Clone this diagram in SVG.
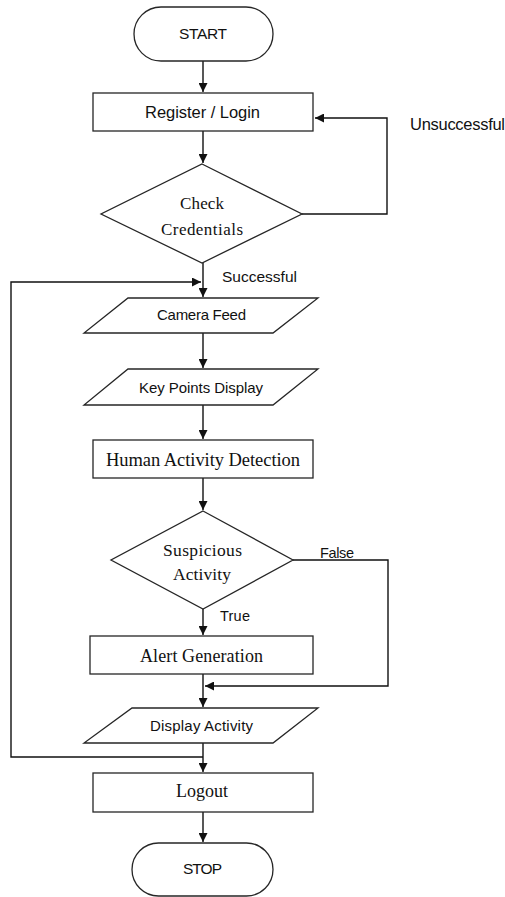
<svg xmlns="http://www.w3.org/2000/svg" width="505" height="897" viewBox="0 0 505 897">
  <style>
    .shape { fill: #ffffff; stroke: #262626; stroke-width: 1.3; }
    .link { fill: none; stroke: #111111; stroke-width: 1.4; }
    .sans { font-family: "Liberation Sans", Arial, sans-serif; fill: #111111; }
    .serif { font-family: "Liberation Serif", "Times New Roman", serif; fill: #111111; }
    .mid { text-anchor: middle; }
  </style>
  <defs>
    <marker id="arrow" viewBox="0 0 10 10" refX="10" refY="5" markerWidth="9" markerHeight="9" markerUnits="userSpaceOnUse" orient="auto">
      <path d="M0,0 L10,5 L0,10 z" fill="#111111"/>
    </marker>
  </defs>
  <rect width="505" height="897" fill="#ffffff"/>

  <!-- connectors and their labels -->
  <g id="connectors">
    <line class="link" x1="203" y1="61" x2="203" y2="92" marker-end="url(#arrow)"/>
    <line class="link" x1="203" y1="131" x2="203" y2="163" marker-end="url(#arrow)"/>
    <polyline class="link" points="302,214 387,214 387,118 315,118" marker-end="url(#arrow)"/>
    <line class="link" x1="203" y1="263" x2="203" y2="297" marker-end="url(#arrow)"/>
    <polyline class="link" points="203,757 11,757 11,282 201,282" marker-end="url(#arrow)"/>
    <line class="link" x1="203" y1="333" x2="203" y2="368" marker-end="url(#arrow)"/>
    <line class="link" x1="203" y1="405" x2="203" y2="439" marker-end="url(#arrow)"/>
    <line class="link" x1="203" y1="478" x2="203" y2="510" marker-end="url(#arrow)"/>
    <line class="link" x1="203" y1="609" x2="203" y2="635" marker-end="url(#arrow)"/>
    <polyline class="link" points="293,560 388,560 388,686 205,686" marker-end="url(#arrow)"/>
    <line class="link" x1="203" y1="674" x2="203" y2="707" marker-end="url(#arrow)"/>
    <line class="link" x1="203" y1="743" x2="203" y2="772" marker-end="url(#arrow)"/>
    <line class="link" x1="203" y1="812" x2="203" y2="842" marker-end="url(#arrow)"/>
    <text class="sans" x="410" y="130" style="font-size:16.5px" textLength="95">Unsuccessful</text>
    <text class="sans" x="222" y="282" style="font-size:15.5px" textLength="75">Successful</text>
    <text class="sans" x="320" y="558" style="font-size:14.5px" textLength="34">False</text>
    <text class="sans" x="220" y="621" style="font-size:14.5px" textLength="30">True</text>
  </g>

  <g id="start">
    <rect class="shape" x="134" y="7" width="139" height="54" rx="27" ry="27"/>
    <text class="sans mid" x="203" y="39" style="font-size:15.5px" textLength="48">START</text>
  </g>

  <g id="register-login">
    <rect class="shape" x="93" y="93" width="220" height="38"/>
    <text class="sans mid" x="202.5" y="118" style="font-size:16.5px" textLength="115">Register / Login</text>
  </g>

  <g id="check-credentials">
    <polygon class="shape" points="202,164 302,214 202,263 101,214"/>
    <text class="serif mid" x="202" y="209" style="font-size:17px" textLength="44">Check</text>
    <text class="serif mid" x="202" y="235" style="font-size:17px" textLength="82">Credentials</text>
  </g>

  <g id="camera-feed">
    <polygon class="shape" points="128,298 318,298 273,333 84,333"/>
    <text class="sans mid" x="201.5" y="320" style="font-size:15px" textLength="89">Camera Feed</text>
  </g>

  <g id="key-points-display">
    <polygon class="shape" points="128,369 318,369 273,405 84,405"/>
    <text class="sans mid" x="201" y="393" style="font-size:15px" textLength="124">Key Points Display</text>
  </g>

  <g id="human-activity-detection">
    <rect class="shape" x="93" y="440" width="220" height="38"/>
    <text class="serif mid" x="203" y="465.5" style="font-size:18.5px" textLength="194">Human Activity Detection</text>
  </g>

  <g id="suspicious-activity">
    <polygon class="shape" points="203,511 293,560 203,609 111,560"/>
    <text class="serif mid" x="202.5" y="556" style="font-size:17.5px" textLength="79">Suspicious</text>
    <text class="serif mid" x="202" y="580" style="font-size:17.5px" textLength="58">Activity</text>
  </g>

  <g id="alert-generation">
    <rect class="shape" x="90" y="636" width="223" height="38"/>
    <text class="serif mid" x="201.5" y="661.5" style="font-size:18px" textLength="123">Alert Generation</text>
  </g>

  <g id="display-activity">
    <polygon class="shape" points="132,708 318,708 273,743 84,743"/>
    <text class="sans mid" x="201.5" y="731" style="font-size:15px" textLength="103">Display Activity</text>
  </g>

  <g id="logout">
    <rect class="shape" x="93" y="773" width="220" height="39"/>
    <text class="serif mid" x="202" y="797" style="font-size:18px" textLength="52">Logout</text>
  </g>

  <g id="stop">
    <rect class="shape" x="132" y="843" width="141" height="53" rx="26.5" ry="26.5"/>
    <text class="sans mid" x="202.5" y="873.5" style="font-size:15.5px" textLength="39">STOP</text>
  </g>
</svg>
